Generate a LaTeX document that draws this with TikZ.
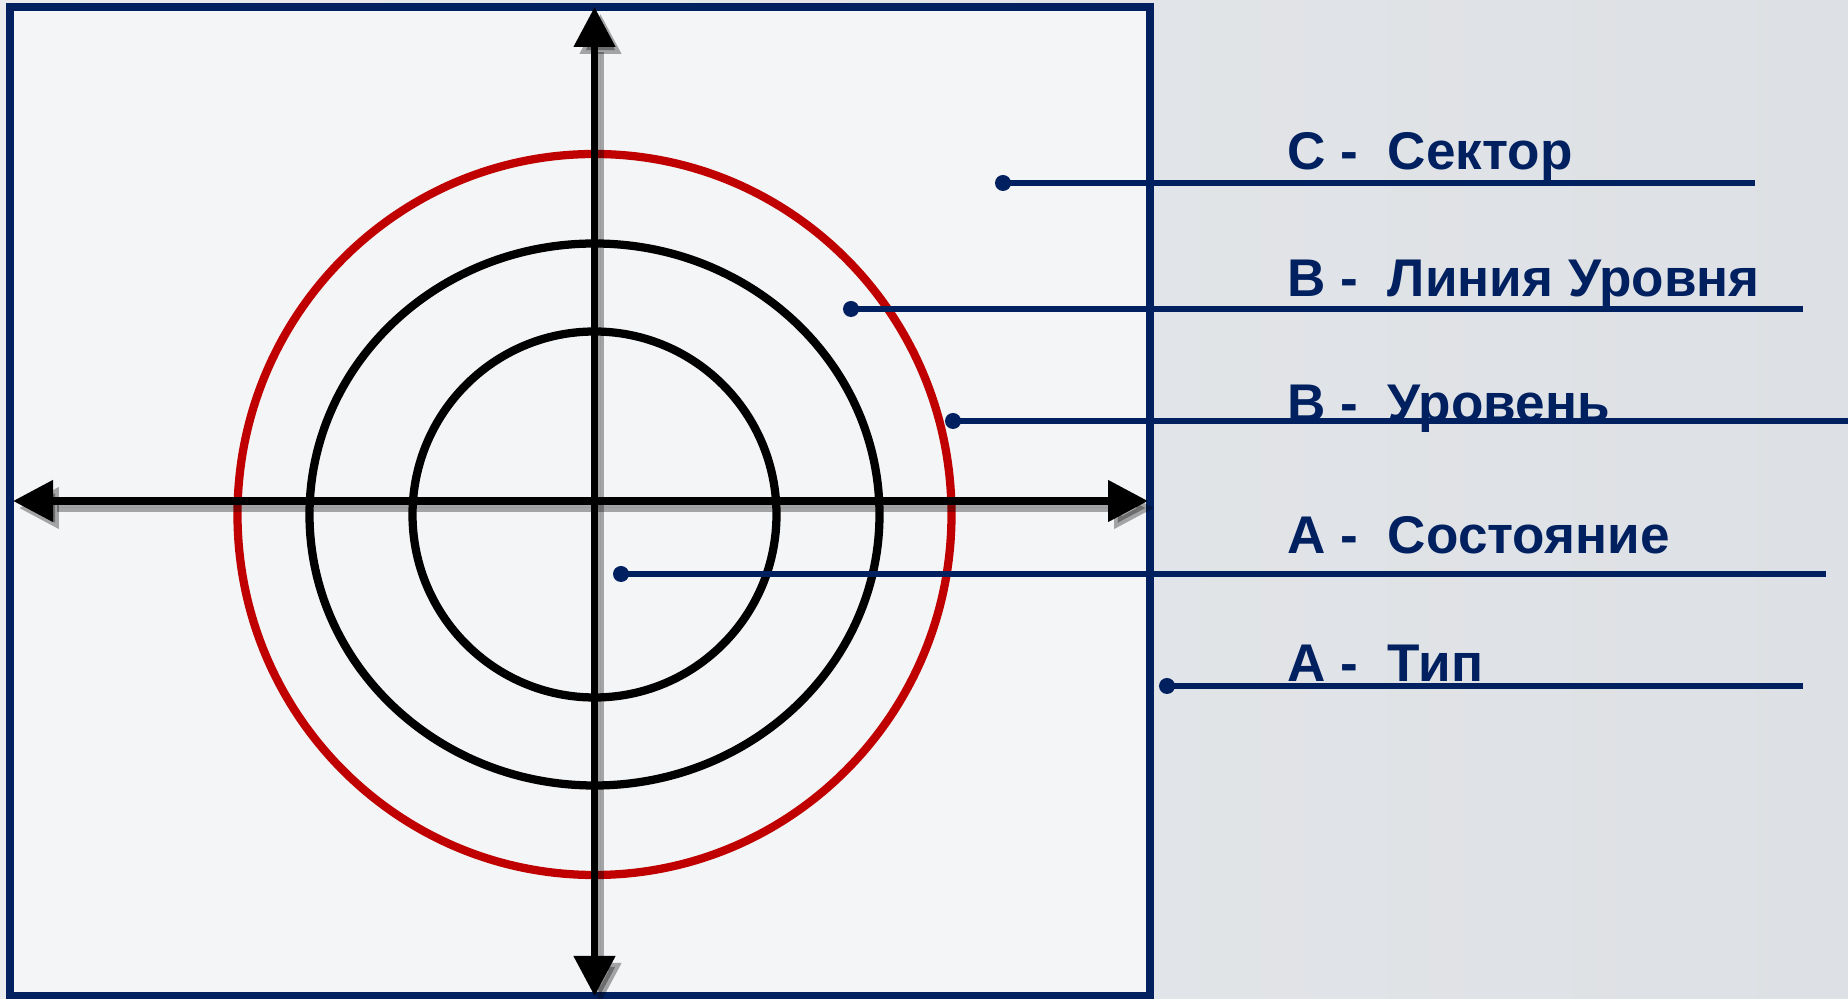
\documentclass[tikz,border=0pt]{standalone}
\usepackage{fontspec}
\setmainfont{Liberation Sans}
\usetikzlibrary{arrows.meta,positioning}
\definecolor{navy}{RGB}{0,32,96}
\definecolor{ringred}{RGB}{192,0,0}
\definecolor{panel}{RGB}{244,245,247}
\definecolor{greyA}{RGB}{233,235,238}
\definecolor{greyB}{RGB}{221,224,228}

\begin{document}
\begin{tikzpicture}[x=0.1mm, y=-0.1mm, >=Triangle]
    \tikzstyle{panelbox} = [draw=navy, line width=2pt, fill=panel]
    \tikzstyle{axis}     = [line width=2.2pt, {Triangle[length=4mm,width=4mm]}-{Triangle[length=4mm,width=4mm]}]
    \tikzstyle{axshadow} = [axis, draw=black, fill=black, opacity=0.33, transform canvas={xshift=0.6mm,yshift=-0.7mm}]
    \tikzstyle{ring}     = [draw, line width=2.35pt]
    \tikzstyle{dot}      = [circle, fill=navy, inner sep=0pt, minimum size=1.6mm]
    \tikzstyle{leader}   = [draw=navy, line width=1.5pt]
    \tikzstyle{legend}   = [anchor=base west, text=navy, inner sep=0pt, font=\fontsize{15.1pt}{18pt}\selectfont\bfseries]

    \useasboundingbox (0,0) rectangle (1848,999);
    \shade[left color=greyA, right color=greyB] (0,0) rectangle (1848,999);
    \draw[panelbox] (10,7) rectangle (1150,996);

    % Rings
    \coordinate (mid) at (594.5,514.5);
    \draw[ring, ringred] (mid) ellipse [x radius=357, y radius=360.5];
    \draw[ring] (mid) ellipse [x radius=285, y radius=271];
    \draw[ring] (mid) ellipse [x radius=182, y radius=183];

    % Axes
    \coordinate (top)    at (594.5,7);
    \coordinate (bottom) at (594.5,996);
    \coordinate (left)   at (13,501);
    \coordinate (right)  at (1148,501);
    \draw[axshadow] (top) -- (bottom);
    \draw[axshadow] (left) -- (right);
    \draw[axis] (top) -- (bottom);
    \draw[axis] (left) -- (right);

    % Legend
    \node[legend] (lsector) at (1287,169.5) {С -\ \ Сектор};
    \node[legend] (lline)   at (1287,297)   {В -\ \ Линия Уровня};
    \node[legend] (llevel)  at (1287,422)   {В -\ \ Уровень};
    \node[legend] (lstate)  at (1287,554)   {А -\ \ Состояние};
    \node[legend] (ltype)   at (1287,682)   {А -\ \ Тип};

    \node[dot] (dsector) at (1003,183) {};
    \node[dot] (dline)   at (851,309)  {};
    \node[dot] (dlevel)  at (953,421)  {};
    \node[dot] (dstate)  at (621,574)  {};
    \node[dot] (dtype)   at (1167,686) {};

    \coordinate (esector) at (1755,183);
    \coordinate (eline)   at (1803,309);
    \coordinate (elevel)  at (1848,421);
    \coordinate (estate)  at (1826,574);
    \coordinate (etype)   at (1803,686);

    % Connections
    \draw[leader] (dsector.center) -- (esector);
    \draw[leader] (dline.center) -- (eline);
    \draw[leader] (dlevel.center) -- (elevel);
    \draw[leader] (dstate.center) -- (estate);
    \draw[leader] (dtype.center) -- (etype);

\end{tikzpicture}
\end{document}
